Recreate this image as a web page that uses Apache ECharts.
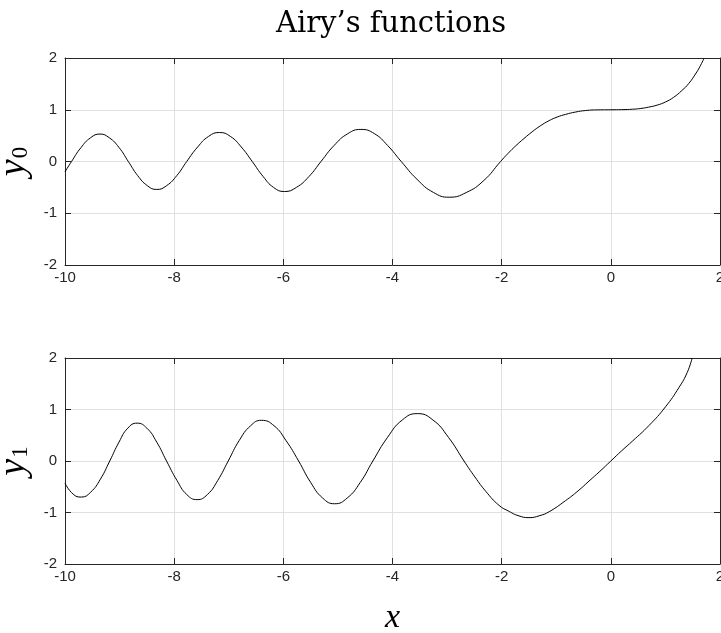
<!DOCTYPE html>
<html>
<head>
<meta charset="utf-8">
<script src="https://cdn.jsdelivr.net/npm/echarts@6/dist/echarts.min.js"></script>
<style>
html,body{margin:0;padding:0;background:#fff;}
#chart{width:721px;height:633px;}
</style>
</head>
<body>
<div id="chart"></div>
<script>
// Values
var titleText = 'Airy\u2019s functions';
var xTicks = [-10, -8, -6, -4, -2, 0, 2];
var yTicks = [-2, -1, 0, 1, 2];

// upper panel: y0
var x0 = [-10, -9.88, -9.71, -9.53, -9.36, -9.19, -9.01, -8.84, -8.67, -8.49, -8.32, -8.14, -7.95, -7.77,
          -7.57, -7.37, -7.17, -6.97, -6.77, -6.57, -6.37, -6.18, -5.98, -5.76, -5.53, -5.31,
          -5.07, -4.82, -4.58, -4.33, -4.09, -3.84, -3.55, -3.25, -2.96, -2.65, -2.33, -2.02,
          -1.88, -1.74, -1.59, -1.44, -1.29, -1.13, -0.98, -0.83, -0.65, -0.46, -0.23, 0,
          0.20, 0.40, 0.55, 0.69, 0.85, 1.00, 1.15, 1.30, 1.43, 1.55, 1.63, 1.71];
var y0 = [-0.20, 0, 0.265, 0.46, 0.53, 0.46, 0.27, 0, -0.27, -0.468, -0.54, -0.468, -0.27, 0,
          0.28, 0.485, 0.56, 0.485, 0.28, 0, -0.29, -0.50, -0.58, -0.50, -0.29, 0,
          0.31, 0.537, 0.62, 0.537, 0.31, 0, -0.345, -0.598, -0.69, -0.60, -0.37, 0,
          0.16, 0.305, 0.445, 0.575, 0.69, 0.79, 0.86, 0.91, 0.955, 0.985, 0.998, 1.0,
          1.002, 1.01, 1.025, 1.05, 1.09, 1.15, 1.24, 1.37, 1.51, 1.69, 1.83, 2.0];

// lower panel: y1
var x1 = [-10, -9.85, -9.70, -9.53, -9.35, -9.18, -9.01, -8.85, -8.68, -8.50, -8.32, -8.14,
          -7.95, -7.77, -7.58, -7.39, -7.20, -7.01, -6.81, -6.60, -6.40, -6.17, -5.95, -5.72,
          -5.50, -5.28, -5.06, -4.83, -4.59, -4.36, -4.09, -3.82, -3.545, -3.26, -2.975, -2.69,
          -2.49, -2.29, -2.05, -1.86, -1.70, -1.50, -1.30, -1.13, -0.83, -0.60, -0.40, -0.20, 0,
          0.20, 0.40, 0.70, 1.00, 1.25, 1.40, 1.49];
var y1 = [-0.43, -0.645, -0.70, -0.606, -0.35, 0, 0.368, 0.637, 0.735, 0.637, 0.368, 0,
          -0.375, -0.65, -0.75, -0.65, -0.375, 0, 0.395, 0.684, 0.79, 0.684, 0.395, 0,
          -0.415, -0.719, -0.83, -0.719, -0.415, 0, 0.46, 0.797, 0.92, 0.797, 0.46, 0,
          -0.31, -0.59, -0.86, -0.98, -1.06, -1.10, -1.06, -0.985, -0.77, -0.58, -0.39, -0.20, 0,
          0.20, 0.39, 0.69, 1.05, 1.43, 1.72, 2.0];

function pairs(xs, ys){ return xs.map(function(v,i){ return [v, ys[i]]; }); }

var axisColor = '#262626';
var gridColor = '#e0e0e0';
var tickFont = {fontFamily:'Liberation Sans, Arial, sans-serif', fontSize:15, color:axisColor};

function xAx(gi, primary, name){
  var a = {
    type:'value', gridIndex:gi, min:xTicks[0], max:xTicks[xTicks.length-1], interval:2,
    position: primary ? 'bottom' : 'top',
    axisLine:{show:true, onZero:false, lineStyle:{color:axisColor, width:1}},
    axisTick:{show:true, inside:true, length:6, lineStyle:{color:axisColor}},
    axisLabel: primary ? Object.assign({show:true, margin:5, hideOverlap:false}, tickFont) : {show:false},
    splitLine: primary ? {show:true, lineStyle:{color:gridColor, width:1}} : {show:false}
  };
  if (name){
    a.name = name; a.nameLocation = 'middle'; a.nameGap = 37;
    a.nameTextStyle = {fontFamily:'Liberation Serif, serif', fontStyle:'italic', fontSize:34, color:'#000'};
  }
  return a;
}
function yAx(gi, primary, sub){
  var a = {
    type:'value', gridIndex:gi, min:yTicks[0], max:yTicks[yTicks.length-1], interval:1,
    position: primary ? 'left' : 'right',
    axisLine:{show:true, onZero:false, lineStyle:{color:axisColor, width:1}},
    axisTick:{show:true, inside:true, length:6, lineStyle:{color:axisColor}},
    axisLabel: primary ? Object.assign({show:true, margin:8}, tickFont) : {show:false},
    splitLine: primary ? {show:true, lineStyle:{color:gridColor, width:1}} : {show:false}
  };
  if (primary){
    a.name = '{v|y}{s|' + sub + '}';
    a.nameLocation = 'middle'; a.nameGap = 30; a.nameRotate = 90;
    a.nameTextStyle = {
      rich:{
        v:{fontFamily:'Liberation Serif, serif', fontStyle:'italic', fontSize:38, color:'#000', lineHeight:38, verticalAlign:'bottom'},
        s:{fontFamily:'Liberation Serif, serif', fontSize:23, color:'#000', lineHeight:38, verticalAlign:'bottom', padding:[15,0,0,1]}
      }
    };
  }
  return a;
}

var chart = echarts.init(document.getElementById('chart'), null, {renderer:'canvas'});
chart.setOption({
  backgroundColor:'#fff',
  animation:false,
  title:{
    text:titleText, left:386, top:5, textAlign:'center',
    textStyle:{fontFamily:'DejaVu Serif, serif', fontWeight:'normal', fontSize:29, color:'#000'}
  },
  grid:[
    {left:65, top:58, width:655, height:207, containLabel:false, outerBoundsMode:'none'},
    {left:65, top:358, width:655, height:206, containLabel:false, outerBoundsMode:'none'}
  ],
  xAxis:[xAx(0,true), xAx(0,false), xAx(1,true,'x'), xAx(1,false)],
  yAxis:[yAx(0,true,'0'), yAx(0,false), yAx(1,true,'1'), yAx(1,false)],
  series:[
    {type:'line', xAxisIndex:0, yAxisIndex:0, data:pairs(x0,y0), smooth:true, showSymbol:false, clip:true,
     lineStyle:{color:'#000', width:1}},
    {type:'line', xAxisIndex:2, yAxisIndex:2, data:pairs(x1,y1), smooth:true, showSymbol:false, clip:true,
     lineStyle:{color:'#000', width:1}}
  ]
});
</script>
</body>
</html>
